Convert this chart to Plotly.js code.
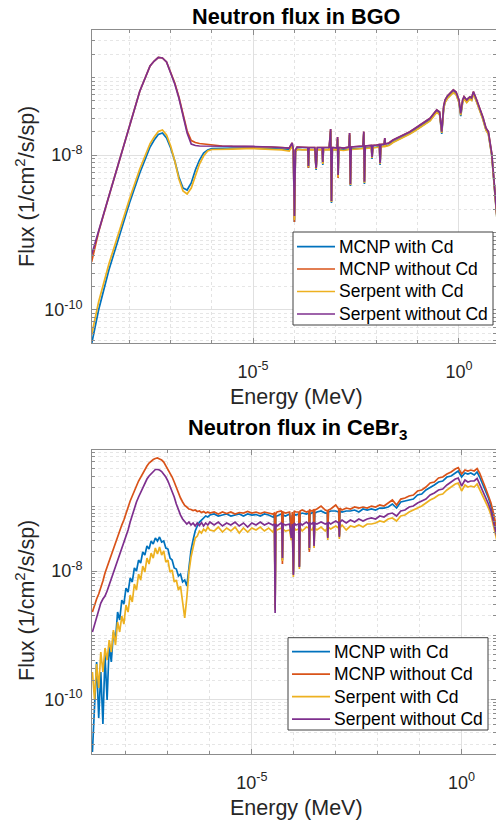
<!DOCTYPE html>
<html><head><meta charset="utf-8">
<script src="https://cdn.plot.ly/plotly-3.0.1.min.js"></script>
<style>html,body{margin:0;padding:0;background:#fff;}#chart{width:496px;height:825px;}</style>
</head><body><div id="chart"></div>
<script>
const seriesNames = ['MCNP with Cd', 'MCNP without Cd', 'Serpent with Cd', 'Serpent without Cd'];
const seriesColors = ['#0072BD', '#D95319', '#EDB120', '#7E2F8E'];
const titleBGO = 'Neutron flux in BGO';
const titleCeBr3 = 'Neutron flux in CeBr<sub>3</sub>';
const xLabel = 'Energy (MeV)';
const yLabel = 'Flux (1/cm<sup>2</sup>/s/sp)';
const xTickVals = [1e-5, 1];
const xTickText = ['10<sup>-5</sup>', '10<sup>0</sup>'];
const yTickVals = [1e-10, 1e-8];
const yTickText = ['10<sup>-10</sup>', '10<sup>-8</sup>'];

// ---- BGO: log10(energy / MeV) and log10(flux) ----
const logEnergyBGO = [-8.92,-8.75,-8.5,-8.25,-8.0,-7.75,-7.5,-7.4,-7.3,-7.2,-7.1,-7.0,-6.9,-6.8,-6.7,-6.6,-6.5,-6.4,-6.3,-6.2,-6.1,-6.0,-5.75,-5.5,-5.0,-4.55,-4.3,-4.12,-4.05,-4.02,-3.995,-3.97,-3.93,-3.8,-3.67,-3.655,-3.64,-3.5,-3.468,-3.44,-3.32,-3.306,-3.29,-3.15,-3.115,-3.095,-3.075,-2.96,-2.947,-2.935,-2.92,-2.8,-2.67,-2.655,-2.635,-2.615,-2.48,-2.33,-2.31,-2.295,-2.275,-2.2,-2.125,-2.11,-2.09,-2.0,-1.93,-1.915,-1.895,-1.815,-1.80,-1.785,-1.70,-1.60,-1.50,-1.43,-1.30,-1.19,-1.07,-0.944,-0.82,-0.70,-0.60,-0.539,-0.47,-0.417,-0.37,-0.337,-0.28,-0.216,-0.136,-0.07,0.0,0.044,0.09,0.124,0.16,0.189,0.23,0.269,0.31,0.35,0.415,0.495,0.578,0.658,0.714,0.796,0.852,0.90,0.94];
const logFluxBGO_MCNPwithCd = [-10.44,-10.000,-9.484,-9.045,-8.619,-8.232,-7.897,-7.806,-7.735,-7.716,-7.781,-7.910,-8.077,-8.284,-8.426,-8.452,-8.361,-8.194,-8.065,-7.974,-7.935,-7.916,-7.910,-7.910,-7.910,-7.916,-7.923,-7.935,-7.871,-7.961,-8.865,-7.961,-7.923,-7.929,-7.929,-8.168,-7.929,-7.929,-8.194,-7.929,-7.929,-8.129,-7.929,-7.929,-7.690,-8.619,-7.929,-7.935,-7.794,-8.284,-7.929,-7.935,-7.923,-7.742,-8.400,-7.923,-7.916,-7.910,-7.725,-8.374,-7.910,-7.903,-7.903,-8.052,-7.903,-7.897,-7.890,-8.129,-7.890,-7.884,-7.806,-7.884,-7.871,-7.832,-7.806,-7.787,-7.755,-7.723,-7.684,-7.639,-7.594,-7.552,-7.484,-7.445,-7.471,-7.729,-7.394,-7.316,-7.265,-7.226,-7.187,-7.213,-7.316,-7.497,-7.316,-7.271,-7.303,-7.316,-7.290,-7.271,-7.290,-7.206,-7.290,-7.400,-7.529,-7.677,-7.723,-8.000,-8.348,-8.606,-8.929];
const logFluxBGO_MCNPwithoutCd = [-9.38,-8.994,-8.532,-8.080,-7.628,-7.177,-6.852,-6.787,-6.742,-6.748,-6.800,-6.929,-7.071,-7.252,-7.458,-7.690,-7.813,-7.839,-7.852,-7.858,-7.871,-7.877,-7.884,-7.890,-7.890,-7.897,-7.903,-7.910,-7.845,-7.935,-8.865,-7.935,-7.897,-7.903,-7.903,-8.168,-7.903,-7.903,-8.181,-7.903,-7.903,-8.103,-7.903,-7.903,-7.665,-8.594,-7.903,-7.910,-7.768,-8.297,-7.903,-7.910,-7.897,-7.716,-8.387,-7.897,-7.890,-7.884,-7.699,-8.345,-7.884,-7.884,-7.877,-8.026,-7.877,-7.871,-7.865,-8.103,-7.865,-7.858,-7.781,-7.858,-7.845,-7.806,-7.781,-7.764,-7.729,-7.699,-7.658,-7.613,-7.568,-7.526,-7.458,-7.419,-7.445,-7.699,-7.368,-7.290,-7.239,-7.204,-7.161,-7.187,-7.290,-7.462,-7.290,-7.248,-7.277,-7.290,-7.265,-7.248,-7.265,-7.183,-7.268,-7.377,-7.506,-7.655,-7.699,-7.978,-8.323,-8.581,-8.903];
const logFluxBGO_SerpentWithCd = [-10.32,-9.897,-9.406,-8.981,-8.568,-8.181,-7.852,-7.768,-7.697,-7.677,-7.742,-7.884,-8.077,-8.310,-8.465,-8.503,-8.426,-8.271,-8.116,-8.013,-7.948,-7.929,-7.923,-7.923,-7.916,-7.923,-7.935,-7.948,-7.884,-7.961,-8.839,-7.961,-7.929,-7.935,-7.935,-8.155,-7.935,-7.935,-8.181,-7.935,-7.935,-8.116,-7.935,-7.935,-7.690,-8.606,-7.935,-7.935,-7.794,-8.284,-7.935,-7.942,-7.929,-7.742,-8.387,-7.929,-7.923,-7.916,-7.725,-8.361,-7.916,-7.910,-7.910,-8.039,-7.910,-7.903,-7.897,-8.116,-7.897,-7.890,-7.806,-7.890,-7.877,-7.839,-7.813,-7.794,-7.761,-7.729,-7.690,-7.645,-7.600,-7.561,-7.490,-7.452,-7.477,-7.716,-7.400,-7.323,-7.271,-7.232,-7.194,-7.219,-7.323,-7.484,-7.323,-7.277,-7.310,-7.323,-7.297,-7.277,-7.297,-7.213,-7.297,-7.406,-7.535,-7.684,-7.729,-8.006,-8.355,-8.613,-8.935];
const logFluxBGO_SerpentWithoutCd = [-9.29,-8.983,-8.532,-8.080,-7.628,-7.177,-6.852,-6.787,-6.742,-6.748,-6.800,-6.942,-7.084,-7.265,-7.484,-7.716,-7.858,-7.877,-7.884,-7.884,-7.888,-7.890,-7.890,-7.890,-7.890,-7.897,-7.903,-7.910,-7.845,-7.935,-8.787,-7.935,-7.897,-7.903,-7.903,-8.142,-7.903,-7.903,-8.168,-7.903,-7.903,-8.090,-7.903,-7.903,-7.665,-8.594,-7.903,-7.910,-7.768,-8.258,-7.903,-7.910,-7.897,-7.716,-8.374,-7.897,-7.890,-7.884,-7.699,-8.345,-7.884,-7.884,-7.877,-8.026,-7.877,-7.871,-7.865,-8.103,-7.865,-7.858,-7.781,-7.858,-7.845,-7.806,-7.781,-7.764,-7.729,-7.699,-7.658,-7.613,-7.568,-7.526,-7.458,-7.419,-7.445,-7.699,-7.368,-7.290,-7.239,-7.204,-7.161,-7.187,-7.290,-7.462,-7.290,-7.248,-7.277,-7.290,-7.265,-7.248,-7.265,-7.183,-7.268,-7.377,-7.506,-7.655,-7.699,-7.978,-8.323,-8.581,-8.903];

// ---- CeBr3: log10(energy / MeV) and log10(flux) ----
const logEnergyCeBr3 = [-8.80,-8.75,-8.70,-8.65,-8.60,-8.55,-8.50,-8.45,-8.40,-8.35,-8.30,-8.25,-8.20,-8.15,-8.10,-8.05,-8.00,-7.95,-7.90,-7.85,-7.80,-7.75,-7.70,-7.65,-7.60,-7.55,-7.50,-7.45,-7.40,-7.35,-7.30,-7.25,-7.20,-7.15,-7.10,-7.05,-7.00,-6.95,-6.90,-6.85,-6.80,-6.75,-6.70,-6.65,-6.60,-6.55,-6.50,-6.45,-6.40,-6.35,-6.30,-6.25,-6.20,-6.15,-6.10,-6.05,-6.00,
 -5.9,-5.8,-5.7,-5.6,-5.5,-5.4,-5.3,-5.2,-5.1,-5.0,-4.9,-4.8,-4.7,-4.6,-4.5,-4.46,-4.445,-4.43,-4.4,-4.3,-4.285,-4.271,-4.255,-4.2,-4.1,-4.06,-4.035,-4.01,-3.99,-3.95,-3.88,-3.867,-3.85,-3.8,-3.7,-3.64,-3.629,-3.615,-3.57,-3.53,-3.517,-3.5,-3.45,-3.35,-3.25,-3.2,-3.19,-3.175,-3.12,-3.0,-2.93,-2.914,-2.9,-2.85,-2.75,-2.65,-2.55,-2.45,-2.35,-2.25,-2.15,-2.05,-1.95,-1.85,-1.75,-1.65,-1.55,-1.45,-1.35,-1.25,-1.15,-1.05,-0.95,-0.85,-0.75,-0.65,-0.55,-0.45,-0.35,-0.25,-0.15,-0.08,0.0,0.08,0.15,0.22,0.30,0.37,0.43,0.50,0.57,0.64,0.70,0.76,0.82,0.86];
const logFluxCeBr3_MCNPwithCd = [-10.819,-10.196,-9.417,-10.290,-9.573,-10.383,-9.308,-10.009,-9.153,-9.417,-8.950,-9.075,-8.639,-8.763,-8.452,-8.514,-8.265,-8.327,-8.109,-8.171,-7.953,-8.000,-7.829,-7.875,-7.704,-7.751,-7.611,-7.657,-7.533,-7.579,-7.486,-7.533,-7.470,-7.548,-7.533,-7.642,-7.657,-7.798,-7.829,-7.953,-7.969,-8.078,-8.047,-8.171,-8.140,-8.234,-7.922,-7.673,-7.517,-7.377,-7.299,-7.237,-7.206,-7.174,-7.143,-7.159,-7.128,
 -7.112,-7.143,-7.128,-7.112,-7.143,-7.128,-7.112,-7.143,-7.112,-7.128,-7.120,-7.143,-7.112,-7.128,-7.159,-7.128,-8.576,-7.143,-7.143,-7.112,-7.128,-7.829,-7.128,-7.143,-7.112,-7.393,-7.128,-8.047,-7.112,-7.128,-7.112,-7.938,-7.112,-7.097,-7.112,-7.097,-7.673,-7.112,-7.097,-7.081,-7.595,-7.097,-7.081,-7.065,-7.097,-7.097,-7.470,-7.081,-7.065,-7.065,-7.081,-7.455,-7.065,-7.081,-7.065,-7.065,-7.050,-7.081,-7.034,-7.050,-7.034,-7.050,-7.019,-7.019,-7.003,-6.956,-7.019,-6.925,-6.910,-6.894,-6.879,-6.816,-6.801,-6.738,-6.692,-6.660,-6.614,-6.598,-6.536,-6.520,-6.474,-6.442,-6.536,-6.474,-6.489,-6.474,-6.505,-6.458,-6.536,-6.645,-6.754,-6.863,-6.988,-7.143,-7.330,-7.455];
const logFluxCeBr3_MCNPwithoutCd = [-8.639,-8.530,-8.436,-8.358,-8.265,-8.156,-8.031,-7.938,-7.829,-7.735,-7.626,-7.548,-7.439,-7.361,-7.284,-7.206,-7.097,-7.003,-6.910,-6.832,-6.738,-6.676,-6.598,-6.536,-6.474,-6.411,-6.365,-6.318,-6.287,-6.263,-6.248,-6.240,-6.255,-6.271,-6.302,-6.357,-6.411,-6.481,-6.536,-6.614,-6.707,-6.785,-6.863,-6.925,-6.980,-7.003,-7.034,-7.042,-7.058,-7.050,-7.073,-7.065,-7.089,-7.073,-7.097,-7.081,-7.097,
 -7.081,-7.112,-7.081,-7.104,-7.081,-7.112,-7.089,-7.097,-7.073,-7.097,-7.081,-7.104,-7.081,-7.097,-7.112,-7.097,-8.545,-7.112,-7.081,-7.065,-7.081,-7.891,-7.081,-7.097,-7.081,-7.361,-7.081,-8.016,-7.065,-7.081,-7.081,-7.922,-7.065,-7.050,-7.081,-7.065,-7.704,-7.050,-7.065,-7.050,-7.564,-7.050,-7.034,-6.988,-7.050,-7.065,-7.455,-7.050,-7.034,-6.972,-7.034,-7.439,-7.019,-7.050,-7.019,-7.034,-7.003,-7.019,-7.003,-7.019,-6.988,-7.003,-6.972,-6.988,-6.941,-6.894,-6.972,-6.879,-6.863,-6.832,-6.816,-6.754,-6.738,-6.692,-6.629,-6.614,-6.551,-6.536,-6.489,-6.458,-6.411,-6.388,-6.489,-6.427,-6.442,-6.427,-6.442,-6.403,-6.474,-6.583,-6.707,-6.832,-6.941,-7.097,-7.284,-7.408];
const logFluxCeBr3_SerpentWithCd = [-9.573,-10.009,-9.449,-9.822,-9.262,-9.573,-9.199,-9.386,-9.075,-9.262,-8.919,-9.153,-8.794,-8.950,-8.701,-8.826,-8.530,-8.639,-8.374,-8.483,-8.202,-8.296,-8.047,-8.140,-7.922,-8.016,-7.798,-7.891,-7.720,-7.798,-7.642,-7.735,-7.626,-7.751,-7.688,-7.860,-7.829,-8.016,-7.984,-8.171,-8.140,-8.296,-8.234,-8.452,-8.732,-8.421,-8.016,-7.782,-7.611,-7.486,-7.455,-7.377,-7.408,-7.346,-7.377,-7.315,-7.361,
 -7.377,-7.315,-7.393,-7.330,-7.377,-7.315,-7.408,-7.330,-7.393,-7.330,-7.361,-7.315,-7.377,-7.330,-7.393,-7.330,-8.607,-7.346,-7.361,-7.330,-7.346,-7.844,-7.346,-7.377,-7.361,-7.517,-7.346,-8.093,-7.330,-7.361,-7.346,-7.969,-7.330,-7.377,-7.315,-7.330,-7.657,-7.346,-7.361,-7.315,-7.642,-7.330,-7.361,-7.315,-7.377,-7.330,-7.517,-7.315,-7.346,-7.299,-7.330,-7.502,-7.330,-7.284,-7.361,-7.299,-7.315,-7.284,-7.315,-7.268,-7.268,-7.252,-7.221,-7.237,-7.190,-7.174,-7.221,-7.143,-7.128,-7.081,-7.050,-7.019,-6.988,-6.941,-6.894,-6.863,-6.816,-6.801,-6.738,-6.692,-6.645,-6.629,-6.754,-6.660,-6.692,-6.676,-6.692,-6.645,-6.723,-6.816,-6.925,-7.019,-7.128,-7.299,-7.455,-7.579];
const logFluxCeBr3_SerpentWithoutCd = [-8.950,-8.826,-8.701,-8.592,-8.498,-8.436,-8.389,-8.312,-8.218,-8.125,-8.016,-7.922,-7.829,-7.735,-7.642,-7.564,-7.470,-7.361,-7.237,-7.128,-7.019,-6.925,-6.847,-6.770,-6.692,-6.629,-6.567,-6.520,-6.481,-6.442,-6.419,-6.419,-6.427,-6.450,-6.489,-6.536,-6.598,-6.676,-6.754,-6.847,-6.956,-7.050,-7.128,-7.190,-7.237,-7.268,-7.237,-7.284,-7.252,-7.299,-7.252,-7.291,-7.245,-7.299,-7.252,-7.284,-7.237,
 -7.284,-7.237,-7.299,-7.252,-7.284,-7.237,-7.299,-7.252,-7.315,-7.252,-7.284,-7.237,-7.284,-7.252,-7.284,-7.268,-8.654,-7.268,-7.299,-7.252,-7.268,-7.798,-7.268,-7.284,-7.268,-7.486,-7.268,-8.062,-7.252,-7.284,-7.268,-7.938,-7.252,-7.284,-7.237,-7.268,-7.642,-7.252,-7.268,-7.237,-7.611,-7.252,-7.268,-7.237,-7.268,-7.252,-7.486,-7.237,-7.268,-7.221,-7.252,-7.470,-7.237,-7.206,-7.252,-7.206,-7.237,-7.190,-7.221,-7.190,-7.174,-7.190,-7.143,-7.159,-7.112,-7.097,-7.143,-7.065,-7.050,-7.003,-6.988,-6.941,-6.910,-6.879,-6.816,-6.785,-6.738,-6.723,-6.660,-6.614,-6.567,-6.551,-6.676,-6.583,-6.614,-6.598,-6.598,-6.559,-6.645,-6.738,-6.847,-6.956,-7.065,-7.237,-7.393,-7.517];

const FONT = 'Liberation Sans, Arial, Helvetica, sans-serif';
const AXC = '#8c8c8c';
const pow10 = a => a.map(v => Math.pow(10, v));

function makeTraces(logE, sets, xa, ya) {
  const x = pow10(logE);
  return sets.map((f, i) => ({
    type: 'scatter', mode: 'lines', x: x, y: pow10(f), xaxis: xa, yaxis: ya,
    name: seriesNames[i], showlegend: false, hoverinfo: 'skip',
    line: {color: seriesColors[i], width: 1.7}
  }));
}

function minorLog(from, to, skip, onlyDecades) {
  const v = [];
  for (let e = from; e <= to; e++) {
    for (let m = 1; m < 10; m++) {
      if (onlyDecades && m > 1) continue;
      if (m === 1 && skip.includes(e)) continue;
      v.push(m * Math.pow(10, e));
    }
  }
  return v;
}

function xAxis(range, anchor, domain) {
  return {
    type: 'log', range: range, domain: domain, anchor: anchor, fixedrange: true,
    tickmode: 'array', tickvals: xTickVals, ticktext: xTickText,
    ticks: 'inside', ticklen: 5, tickwidth: 1, tickcolor: AXC,
    showline: true, linecolor: AXC, linewidth: 1, mirror: 'ticks',
    showgrid: true, gridcolor: '#e0e0e0', gridwidth: 1, zeroline: false,
    minor: {tickmode: 'array', tickvals: minorLog(-10, 1, [-5, 0], true), ticks: 'inside', ticklen: 3, tickcolor: AXC,
            showgrid: true, gridcolor: '#e3e3e3', griddash: 'dot', gridwidth: 1},
    tickfont: {family: FONT, size: 18, color: '#262626'}, ticklabelstandoff: 12
  };
}
function yAxis(range, anchor, domain) {
  return {
    type: 'log', range: range, domain: domain, anchor: anchor, fixedrange: true,
    tickmode: 'array', tickvals: yTickVals, ticktext: yTickText,
    ticks: 'inside', ticklen: 5, tickwidth: 1, tickcolor: AXC,
    showline: true, linecolor: AXC, linewidth: 1, mirror: 'ticks',
    showgrid: true, gridcolor: '#e0e0e0', gridwidth: 1, zeroline: false,
    minor: {tickmode: 'array', tickvals: minorLog(-12, -6, [-10, -8], false), ticks: 'inside', ticklen: 3, tickcolor: AXC,
            showgrid: true, gridcolor: '#e6e6e6', griddash: 'dot', gridwidth: 1},
    tickfont: {family: FONT, size: 18, color: '#262626'}, ticklabelstandoff: 5
  };
}

const W = 496, H = 825;
const xDom = [92 / W, 1];

function ann(text, xpx, ypx, size, angle, bold) {
  return {text: bold ? '<b>' + text + '</b>' : text, xref: 'paper', yref: 'paper', x: xpx / W, y: 1 - ypx / H,
    xanchor: 'center', yanchor: 'middle', showarrow: false, textangle: angle || 0,
    font: {family: FONT, size: size, color: bold ? '#000000' : '#262626'}};
}

// legend drawn as a box, sample lines and text entries
function legendParts(box, rows, lineX0, lineX1, textX) {
  const shapes = [{type: 'rect', xref: 'paper', yref: 'paper', layer: 'above',
    x0: box[0] / W, x1: box[1] / W, y0: 1 - box[3] / H, y1: 1 - box[2] / H,
    fillcolor: '#ffffff', line: {color: '#404040', width: 1}}];
  const anns = [];
  seriesNames.forEach((name, i) => {
    shapes.push({type: 'line', xref: 'paper', yref: 'paper', layer: 'above',
      x0: lineX0 / W, x1: lineX1 / W, y0: 1 - rows[i] / H, y1: 1 - rows[i] / H,
      line: {color: seriesColors[i], width: 1.7}});
    anns.push({text: name, xref: 'paper', yref: 'paper', x: textX / W, y: 1 - rows[i] / H,
      xanchor: 'left', yanchor: 'middle', showarrow: false,
      font: {family: FONT, size: 17.5, color: '#000000'}});
  });
  return {shapes, anns};
}
const legTop = legendParts([293, 493, 232, 325], [246.7, 269, 291.5, 314], 297, 335, 337);
const legBot = legendParts([288, 488, 637.7, 730], [651.7, 674.2, 696.7, 719.2], 292, 330, 332);

const data = [].concat(
  makeTraces(logEnergyBGO, [logFluxBGO_MCNPwithCd, logFluxBGO_MCNPwithoutCd, logFluxBGO_SerpentWithCd, logFluxBGO_SerpentWithoutCd], 'x', 'y'),
  makeTraces(logEnergyCeBr3, [logFluxCeBr3_MCNPwithCd, logFluxCeBr3_MCNPwithoutCd, logFluxCeBr3_SerpentWithCd, logFluxCeBr3_SerpentWithoutCd], 'x2', 'y2')
);

const layout = {
  width: W, height: H, autosize: false, margin: {l: 0, r: 0, t: 0, b: 0, pad: 0},
  paper_bgcolor: '#ffffff', plot_bgcolor: '#ffffff', showlegend: false, hovermode: false,
  xaxis: xAxis([-8.91, 0.90], 'y', xDom),
  yaxis: yAxis([-10.426, -6.387], 'x', [1 - 343 / H, 1 - 30 / H]),
  xaxis2: xAxis([-8.81, 0.82], 'y2', xDom),
  yaxis2: yAxis([-10.855, -6.115], 'x2', [1 - 754.3 / H, 1 - 450 / H]),
  shapes: legTop.shapes.concat(legBot.shapes),
  annotations: [
    ann(titleBGO, 296, 16, 21.7, 0, true),
    ann(titleCeBr3, 297, 429, 21.7, 0, true),
    ann(xLabel, 296, 397, 21.5, 0, false),
    ann(xLabel, 296, 808, 21.5, 0, false),
    ann(yLabel, 25, 187, 21.5, -90, false),
    ann(yLabel, 25, 601, 21.5, -90, false)
  ].concat(legTop.anns, legBot.anns)
};

Plotly.newPlot('chart', data, layout, {displayModeBar: false, staticPlot: true});
</script>
</body></html>
